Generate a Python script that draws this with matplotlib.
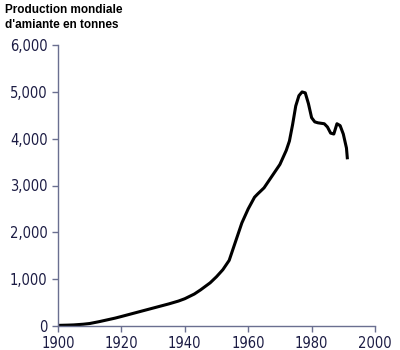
import matplotlib
matplotlib.use("Agg")
import matplotlib.pyplot as plt

years = [1900, 1903, 1905, 1908, 1910, 1913, 1915, 1918, 1920, 1925, 1930, 1935,
         1938, 1940, 1943, 1945, 1948, 1950, 1952, 1954, 1956, 1958, 1960, 1962,
         1963, 1965, 1966, 1967, 1968, 1970, 1972, 1973, 1974, 1975, 1976, 1977,
         1978, 1979, 1980, 1981, 1982, 1983, 1984, 1985, 1986, 1987, 1988, 1989,
         1990, 1991, 1991.3]
production = [10, 15, 20, 35, 50, 90, 120, 165, 200, 290, 380, 470,
              530, 580, 680, 770, 920, 1050, 1200, 1400, 1800, 2200, 2500, 2750,
              2820, 2950, 3050, 3150, 3250, 3450, 3750, 3950, 4300, 4700, 4920, 5000,
              4980, 4750, 4450, 4360, 4340, 4330, 4320, 4250, 4120, 4100, 4320, 4280,
              4100, 3800, 3560]

navy = "#1c1c44"
spine = "#6a6f90"

fig = plt.figure(figsize=(4, 3.5), dpi=100)
ax = fig.add_axes([0.145, 0.069, 0.7925, 0.802])
ax.plot(years, production, color="black", lw=2.2, solid_joinstyle="round",
        solid_capstyle="butt")

ax.set_xlim(1900, 2000)
ax.set_ylim(0, 6000)
ax.set_xticks(range(1900, 2001, 20))
ax.set_yticks(range(0, 6001, 1000))
ax.set_yticklabels([f"{v:,}" for v in range(0, 6001, 1000)])
for s in ["top", "right"]:
    ax.spines[s].set_visible(False)
for s in ["left", "bottom"]:
    ax.spines[s].set_color(spine)
    ax.spines[s].set_linewidth(1)
ax.tick_params(direction="out", length=4, width=1, color=spine, labelcolor=navy,
               labelsize=10.5)
for lbl in ax.get_xticklabels() + ax.get_yticklabels():
    lbl.set_family("DejaVu Sans")
    lbl.set_stretch("condensed")

fig.text(0.012, 0.988, "Production mondiale\nd'amiante en tonnes", ha="left", va="top",
         fontsize=8.5, fontweight="bold", family=["Liberation Sans", "DejaVu Sans"],
         linespacing=1.3)

fig.savefig("out.png", dpi=100)
